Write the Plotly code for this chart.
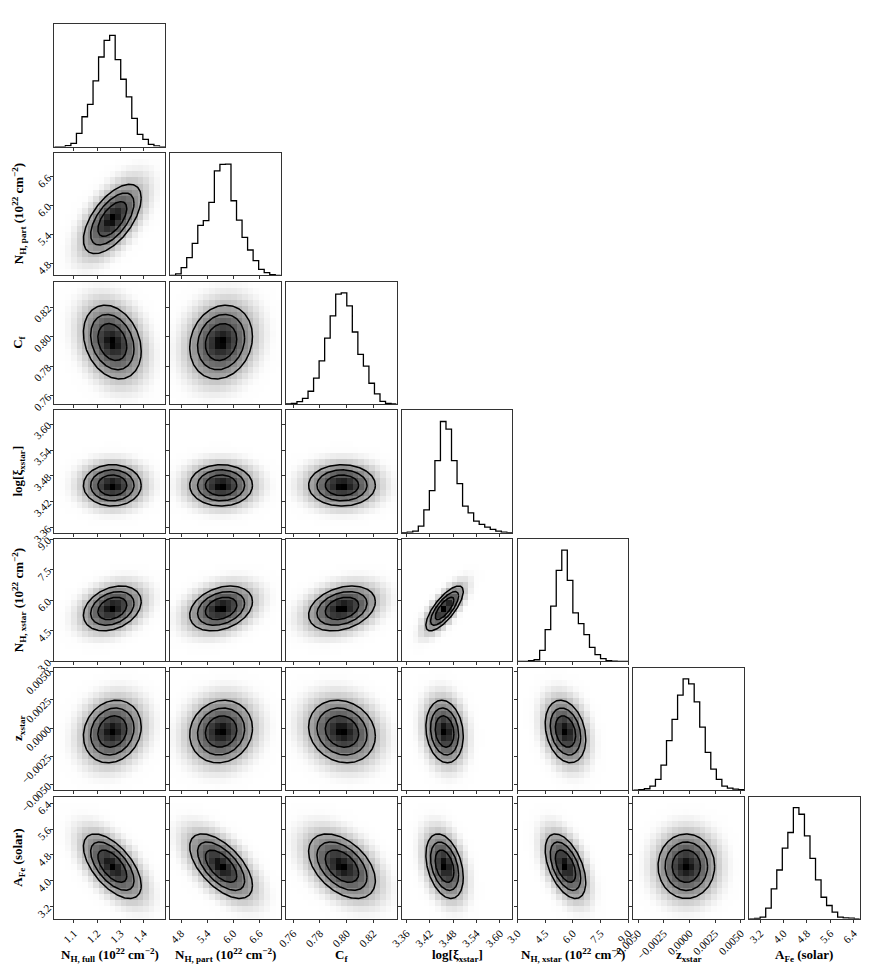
import numpy as np
import plotly.graph_objects as go

# ---------------- data ----------------
labels = [
    "N<sub>H, full</sub> (10<sup>22</sup> cm<sup>−2</sup>)",
    "N<sub>H, part</sub> (10<sup>22</sup> cm<sup>−2</sup>)",
    "C<sub>f</sub>",
    "log[ξ<sub>xstar</sub>]",
    "N<sub>H, xstar</sub> (10<sup>22</sup> cm<sup>−2</sup>)",
    "z<sub>xstar</sub>",
    "A<sub>Fe</sub> (solar)",
]
ranges = [
    [1.016, 1.491],
    [4.55, 7.09],
    [0.7545, 0.8374],
    [3.348, 3.632],
    [3.0, 9.0],
    [-0.00547, 0.00532],
    [2.82, 6.61],
]
tick_vals = [
    [1.1, 1.2, 1.3, 1.4],
    [4.8, 5.4, 6.0, 6.6],
    [0.76, 0.78, 0.80, 0.82],
    [3.36, 3.42, 3.48, 3.54, 3.60],
    [3.0, 4.5, 6.0, 7.5, 9.0],
    [-0.005, -0.0025, 0.0, 0.0025, 0.005],
    [3.2, 4.0, 4.8, 5.6, 6.4],
]
tick_text = [
    ["1.1", "1.2", "1.3", "1.4"],
    ["4.8", "5.4", "6.0", "6.6"],
    ["0.76", "0.78", "0.80", "0.82"],
    ["3.36", "3.42", "3.48", "3.54", "3.60"],
    ["3.0", "4.5", "6.0", "7.5", "9.0"],
    ["−0.0050", "−0.0025", "0.0000", "0.0025", "0.0050"],
    ["3.2", "4.0", "4.8", "5.6", "6.4"],
]

# 1D histogram heights (20 bins across each range)
hist_nh_full = [0, 0, 3, 10, 40, 90, 127, 198, 270, 320, 335, 262, 203, 150, 85, 37, 22, 7, 2, 0]
hist_nh_part = [0, 4, 23, 53, 96, 150, 164, 219, 314, 333, 334, 224, 166, 114, 76, 44, 18, 8, 2, 0]
hist_cf = [0, 2, 7, 17, 38, 77, 129, 197, 263, 328, 332, 293, 215, 148, 113, 62, 30, 8, 2, 0]
hist_logxi = [0, 2, 5, 20, 69, 127, 217, 335, 312, 217, 148, 80, 60, 35, 25, 17, 10, 5, 2, 0]
hist_nh_xstar = [0, 0, 2, 5, 33, 95, 165, 272, 332, 242, 145, 113, 80, 42, 20, 8, 2, 1, 0, 0]
hist_z = [0, 1, 4, 12, 32, 74, 147, 210, 282, 330, 315, 262, 187, 112, 62, 32, 12, 6, 3, 1]
hist_afe = [0, 1, 5, 32, 90, 147, 213, 260, 335, 315, 250, 182, 117, 65, 40, 20, 5, 3, 2, 0]
hists = [hist_nh_full, hist_nh_part, hist_cf, hist_logxi, hist_nh_xstar, hist_z, hist_afe]

# centres / widths of each posterior and pairwise correlations (estimated from the panels)
centres = [1.265, 5.72, 0.7965, 3.458, 5.6, -0.0003, 4.45]
widths = [0.062, 0.36, 0.0125, 0.024, 0.55, 0.00138, 0.5]
corr_lower = [
    [],
    [0.6],
    [-0.25, 0.15],
    [0.0, 0.0, 0.0],
    [0.3, 0.3, 0.3, 0.75],
    [0.15, 0.1, -0.15, -0.15, -0.25],
    [-0.6, -0.6, -0.45, -0.35, -0.5, 0.0],
]
contour_sigmas = [2.0, 1.5, 1.0]

# ---------------- styling ----------------
density_scale = [
    [0.0, "#ffffff"], [0.03, "#fdfdfd"], [0.074, "#f1f1f1"], [0.163, "#d9d9d9"],
    [0.313, "#b6b6b6"], [0.52, "#939393"], [0.748, "#686868"], [0.93, "#363636"],
    [1.0, "#000000"],
]

# ---------------- layout geometry (screen pixels, page has an 8px body margin) ----------------
OFF = 8
W, H = 881 - OFF, 980 - OFF
L0, PW, PX = 54.3 - OFF, 110.7, 115.8
T0, PH, PY = 24.3 - OFF, 122.3, 128.7
NB = 20
serif = "Liberation Serif"
frame = "#333333"

fig = go.Figure()
lay = {}
k = 0
tt = np.linspace(0, 2 * np.pi, 181)
for r in range(7):
    for c in range(r + 1):
        k += 1
        xa = "x" if k == 1 else f"x{k}"
        ya = "y" if k == 1 else f"y{k}"
        xkey = "xaxis" if k == 1 else f"xaxis{k}"
        ykey = "yaxis" if k == 1 else f"yaxis{k}"
        xdom = [(L0 + c * PX) / W, (L0 + c * PX + PW) / W]
        ydom = [1 - (T0 + r * PY + PH) / H, 1 - (T0 + r * PY) / H]
        common = dict(showline=True, mirror=True, linecolor=frame, linewidth=1,
                      showgrid=False, zeroline=False, ticks="outside", ticklen=3,
                      tickcolor=frame, tickfont=dict(family=serif, size=11, color="black"),
                      tickangle=-45, automargin=False, fixedrange=True)
        xr = ranges[c]
        lay[xkey] = dict(common, domain=xdom, anchor=ya, range=xr,
                         tickmode="array", tickvals=tick_vals[c], ticktext=tick_text[c],
                         showticklabels=(r == 6))
        if r == c:
            counts = hists[c]
            edges = np.linspace(xr[0], xr[1], NB + 1)
            fig.add_trace(go.Scatter(
                x=edges, y=list(counts) + [counts[-1]], mode="lines",
                line=dict(color="black", width=1.3, shape="hv"),
                xaxis=xa, yaxis=ya, hoverinfo="skip", showlegend=False))
            lay[ykey] = dict(common, domain=ydom, anchor=xa, range=[0, 1.1 * max(counts)],
                             showticklabels=False, ticks="")
        else:
            yr = ranges[r]
            lay[ykey] = dict(common, domain=ydom, anchor=xa, range=yr,
                             tickmode="array", tickvals=tick_vals[r], ticktext=tick_text[r],
                             showticklabels=(c == 0))
            mx, my = centres[c], centres[r]
            sx, sy = widths[c], widths[r]
            rho = corr_lower[r][c]
            # coarse density image (20 x 20 bins)
            ex = np.linspace(xr[0], xr[1], NB + 1)
            ey = np.linspace(yr[0], yr[1], NB + 1)
            cx = 0.5 * (ex[1:] + ex[:-1])
            cy = 0.5 * (ey[1:] + ey[:-1])
            X, Y = np.meshgrid(cx, cy)
            dx, dy = (X - mx) / sx, (Y - my) / sy
            q = (dx ** 2 - 2 * rho * dx * dy + dy ** 2) / (1 - rho ** 2)
            dens = np.exp(-0.3 * q)
            fig.add_trace(go.Heatmap(
                x=cx, y=cy, z=dens, zmin=0, zmax=dens.max(),
                colorscale=density_scale, showscale=False,
                xaxis=xa, yaxis=ya, hoverinfo="skip"))
            # filled sigma contours
            cov = np.array([[sx * sx, rho * sx * sy], [rho * sx * sy, sy * sy]])
            Lc = np.linalg.cholesky(cov)
            circ = np.vstack([np.cos(tt), np.sin(tt)])
            for s in contour_sigmas:
                pts = Lc @ (s * circ)
                fig.add_trace(go.Scatter(
                    x=mx + pts[0], y=my + pts[1], mode="lines", fill="toself",
                    fillcolor="rgba(0,0,0,0.07)", line=dict(color="black", width=1.5),
                    xaxis=xa, yaxis=ya, hoverinfo="skip", showlegend=False))

annotations = []
for c in range(7):
    annotations.append(dict(
        text="<b>" + labels[c] + "</b>", xref="paper", yref="paper",
        x=(L0 + c * PX + PW / 2) / W, y=1 - (955 - OFF) / H, xanchor="center", yanchor="middle",
        showarrow=False, font=dict(family=serif, size=13, color="black")))
for r in range(1, 7):
    annotations.append(dict(
        text="<b>" + labels[r] + "</b>", xref="paper", yref="paper",
        x=(19 - OFF) / W, y=1 - (T0 + r * PY + PH / 2) / H, xanchor="center", yanchor="middle",
        textangle=-90, showarrow=False, font=dict(family=serif, size=13, color="black")))

fig.update_layout(**lay)
fig.update_layout(width=W, height=H, margin=dict(l=0, r=0, t=0, b=0, autoexpand=False),
                  paper_bgcolor="white", plot_bgcolor="white",
                  annotations=annotations, showlegend=False)
fig.write_html("out.html")
